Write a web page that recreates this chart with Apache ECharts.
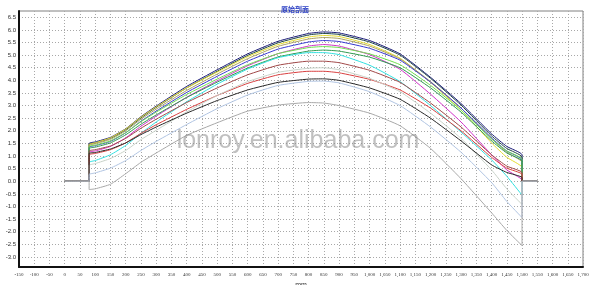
<!DOCTYPE html>
<html>
<head>
<meta charset="utf-8">
<script src="https://cdn.jsdelivr.net/npm/echarts@6/dist/echarts.min.js"></script>
<style>html,body{margin:0;padding:0;background:#fff}#c{width:600px;height:285px}</style>
</head>
<body>
<div id="c"></div>
<script>
// measurement positions (mm)
const positions = [80, 100, 150, 200, 250, 300, 400, 500, 600, 700, 800, 850, 900, 1000, 1100, 1200, 1300, 1400, 1450, 1500];
const yTickLabels = [-3.0, -2.5, -2.0, -1.5, -1.0, -0.5, 0.0, 0.5, 1.0, 1.5, 2.0, 2.5, 3.0, 3.5, 4.0, 4.5, 5.0, 5.5, 6.0, 6.5];
const outsideX = [0, 1550];
const profNavy   = [1.50, 1.56, 1.74, 2.08, 2.56, 2.98, 3.76, 4.42, 5.05, 5.55, 5.86, 5.92, 5.88, 5.58, 5.05, 4.12, 3.08, 1.88, 1.38, 1.05];
const profDark   = [1.47, 1.52, 1.70, 2.04, 2.51, 2.93, 3.70, 4.36, 4.99, 5.49, 5.80, 5.86, 5.82, 5.52, 5.00, 4.08, 3.02, 1.80, 1.30, 0.96];
const profYellow = [1.45, 1.52, 1.72, 2.07, 2.54, 2.95, 3.70, 4.33, 4.94, 5.42, 5.72, 5.78, 5.74, 5.42, 4.88, 3.92, 2.82, 1.52, 0.95, 0.55];
const profOlive  = [1.42, 1.48, 1.66, 2.00, 2.46, 2.86, 3.60, 4.25, 4.86, 5.35, 5.64, 5.70, 5.66, 5.36, 4.85, 3.95, 2.90, 1.68, 1.15, 0.75];
const profBlue   = [1.35, 1.41, 1.58, 1.92, 2.38, 2.78, 3.52, 4.16, 4.76, 5.24, 5.52, 5.58, 5.54, 5.27, 4.80, 3.93, 2.90, 1.72, 1.20, 0.85];
const profMagenta= [1.15, 1.20, 1.38, 1.72, 2.18, 2.58, 3.33, 3.98, 4.58, 5.06, 5.36, 5.42, 5.36, 5.02, 4.44, 3.45, 2.35, 1.05, 0.45, 0.05];
const profLime   = [1.38, 1.43, 1.60, 1.93, 2.36, 2.74, 3.44, 4.05, 4.62, 5.06, 5.30, 5.34, 5.30, 5.05, 4.62, 3.80, 2.82, 1.68, 1.20, 0.88];
const profGreen  = [1.30, 1.35, 1.52, 1.84, 2.26, 2.63, 3.32, 3.93, 4.49, 4.93, 5.16, 5.20, 5.16, 4.92, 4.50, 3.70, 2.74, 1.60, 1.12, 0.80];
const profCyan   = [0.75, 0.82, 1.05, 1.42, 1.90, 2.35, 3.15, 3.85, 4.45, 4.90, 5.10, 5.10, 5.02, 4.60, 3.95, 3.00, 1.95, 0.85, 0.20, -0.55];
const profBrown  = [1.20, 1.25, 1.40, 1.70, 2.10, 2.46, 3.12, 3.70, 4.22, 4.60, 4.76, 4.76, 4.70, 4.40, 3.92, 3.10, 2.15, 1.05, 0.60, 0.35];
const profRed    = [1.05, 1.10, 1.25, 1.52, 1.90, 2.24, 2.85, 3.40, 3.88, 4.22, 4.36, 4.36, 4.30, 4.04, 3.62, 2.90, 2.00, 0.95, 0.52, 0.28];
const profPale   = [0.63, 0.70, 0.90, 1.22, 1.65, 2.02, 2.75, 3.40, 3.95, 4.32, 4.48, 4.50, 4.42, 4.08, 3.55, 2.70, 1.70, 0.45, -0.30, -0.92];
const profBlack  = [1.10, 1.14, 1.28, 1.52, 1.85, 2.15, 2.70, 3.20, 3.62, 3.92, 4.05, 4.06, 4.00, 3.70, 3.25, 2.50, 1.60, 0.65, 0.35, 0.15];
const profSky    = [0.27, 0.33, 0.52, 0.82, 1.22, 1.58, 2.25, 2.88, 3.42, 3.80, 3.96, 3.97, 3.90, 3.55, 3.00, 2.15, 1.15, -0.05, -0.80, -1.44];
const profGrey   = [-0.33, -0.30, -0.12, 0.30, 0.75, 1.12, 1.82, 2.32, 2.78, 3.02, 3.12, 3.10, 3.00, 2.70, 2.20, 1.30, 0.10, -1.25, -1.95, -2.55];

const profiles = [
  [profNavy, '#1c1c78'], [profDark, '#1f4545'], [profYellow, '#e4dc30'], [profOlive, '#aaa060'],
  [profBlue, '#3a3ad0'], [profMagenta, '#d030c8'], [profLime, '#70e050'], [profGreen, '#2f9a50'],
  [profCyan, '#30e0e0'], [profBrown, '#a04848'], [profRed, '#d84040'], [profPale, '#c8d2c8'],
  [profBlack, '#2a2a2a'], [profSky, '#b0c4e2'], [profGrey, '#a8a8a8']
];

function buildData(vals) {
  const d = [[outsideX[0], 0], [positions[0], 0]];
  positions.forEach((p, i) => d.push([p, vals[i]]));
  d.push([positions[positions.length - 1], 0], [outsideX[1], 0]);
  return d;
}

const chart = echarts.init(document.getElementById('c'));
chart.setOption({
  animation: false,
  title: {
    text: '原始剖面', left: 276, top: 1,
    textStyle: { fontSize: 7, fontWeight: 'bold', color: '#2b3fc4', fontFamily: 'Noto Sans CJK SC' }
  },
  grid: { left: 19, right: 17, top: 11, bottom: 18, show: true, borderColor: '#808080', borderWidth: 1,
    containLabel: false, outerBoundsMode: 'none' },
  xAxis: {
    type: 'value', min: -150, max: 1700, interval: 50,
    name: 'mm', nameLocation: 'middle', nameGap: 9,
    nameTextStyle: { fontSize: 7, color: '#333', fontFamily: 'Liberation Sans', verticalAlign: 'top' },
    axisLine: { onZero: false, lineStyle: { color: '#111', width: 2 } },
    axisTick: { show: false },
    axisLabel: { fontSize: 5, fontFamily: 'Liberation Sans Narrow', color: '#333', margin: 5,
      formatter: v => v.toLocaleString('en-US') },
    splitLine: { lineStyle: { type: [1, 2], color: '#a8a8a8', width: 1 } }
  },
  yAxis: {
    type: 'value', min: -3.4, max: 6.75,
    axisLine: { show: true, onZero: false, lineStyle: { color: '#111', width: 2 } },
    axisTick: { show: false, customValues: yTickLabels },
    axisLabel: { customValues: yTickLabels, fontSize: 6, fontFamily: 'Liberation Sans', color: '#333', margin: 3,
      formatter: v => v.toFixed(1) },
    splitLine: { lineStyle: { type: [1, 2], color: '#a8a8a8', width: 1 } }
  },
  graphic: [{
    type: 'text', x: 298, y: 141, z: 100, silent: true,
    style: { text: 'lonroy.en.alibaba.com', font: '25px "Liberation Sans"', fill: 'rgba(140,140,140,0.55)',
      align: 'center', verticalAlign: 'middle' }
  }],
  series: profiles.map(([vals, color]) => ({
    type: 'line', data: buildData(vals), showSymbol: false, symbol: 'none', smooth: 0.15,
    lineStyle: { color: color, width: 1 }, itemStyle: { color: color }
  }))
});
</script>
</body>
</html>
